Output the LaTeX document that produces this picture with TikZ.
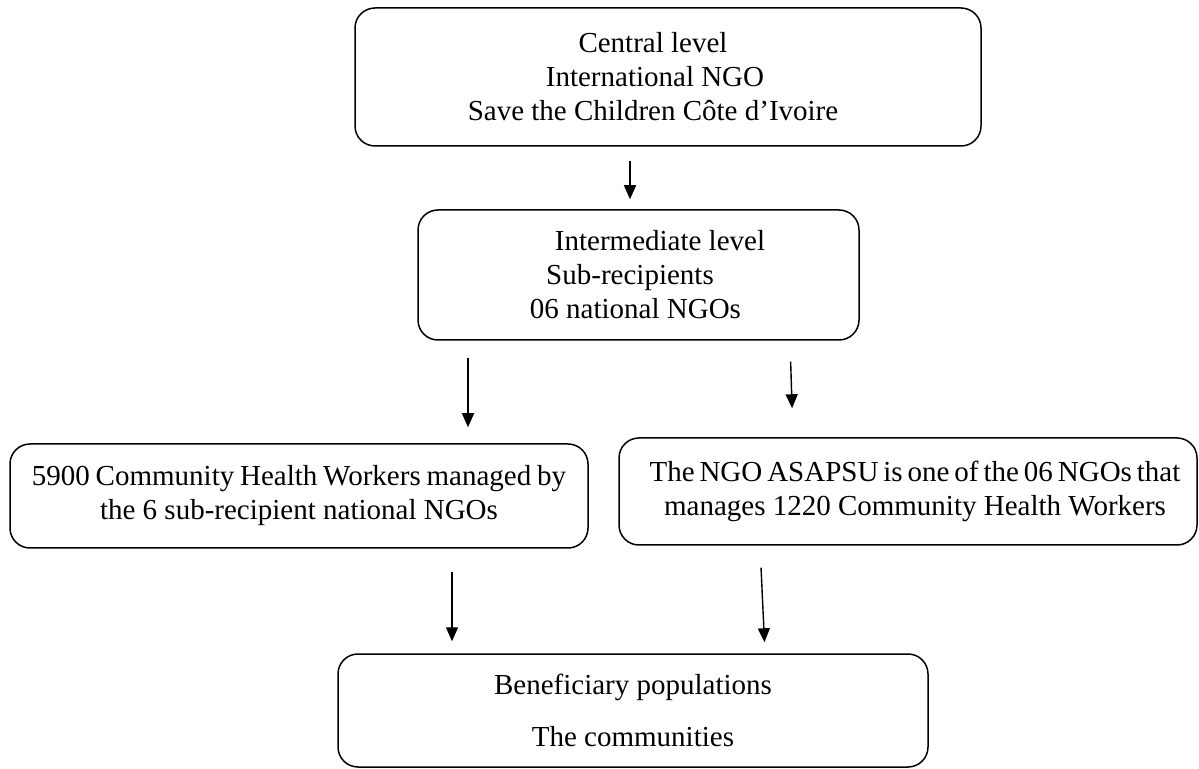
\documentclass[tikz,border=0pt]{standalone}
\usepackage{fontspec}
\setmainfont{Liberation Serif}
\usetikzlibrary{arrows.meta, positioning, calc}
\tikzset{
  block/.style={rectangle, draw=black, rounded corners=10pt, line width=0.75pt,
    align=center, inner sep=4pt, font=\fontsize{14.5}{17}\selectfont},
  arrow/.style={-{Triangle[length=7pt, width=6pt]}, line width=0.7pt, color=black}
}

\begin{document}
\begin{tikzpicture}[x=0.5pt, y=-0.5pt]
  \useasboundingbox (0,0) rectangle (1199,769);

  % Central level
  \node[block, minimum width=313pt, minimum height=69pt] (central) at (668, 77) {\mbox{Central level\hspace{15pt}}\\\mbox{International NGO\hspace{13pt}}\\\mbox{Save the Children Côte d’Ivoire\hspace{15pt}}};

  % Intermediate level
  \node[block, minimum width=220.5pt, minimum height=65pt] (inter) at (638.5, 275) {\mbox{\hspace{21.5pt}Intermediate level}\\\mbox{Sub-recipients\hspace{8.5pt}}\\\mbox{06 national NGOs\hspace{3pt}}};

  % Community health workers
  \node[block, minimum width=289pt, minimum height=52pt] (chw) at (299, 496) {{\spaceskip=0.2em\relax 5900 Community Health Workers managed by}\\the 6 sub-recipient national NGOs};
  \node[block, minimum width=289pt, minimum height=53.5pt] (asapsu) at (908, 491.5) {\hspace*{7pt}{\spaceskip=0.17em\relax The NGO ASAPSU is one of the 06 NGOs that}\\\hspace*{7pt}manages 1220 Community Health Workers};

  % Beneficiaries
  \node[block, minimum width=295pt, minimum height=56.5pt] (benef) at (633, 710.5) {Beneficiary populations\\[9pt]The communities};

  % Arrows
  \draw[arrow, shorten <=7pt, shorten >=5pt] ([xshift=-19pt]central.south) -- ([xshift=-4.25pt]inter.north);
  \draw[arrow, shorten <=8.5pt, shorten >=8pt] ([xshift=-85.25pt]inter.south) -- ([xshift=84.5pt]chw.north);
  \draw[arrow, shorten <=10.5pt, shorten >=14.5pt] ([xshift=75.75pt]inter.south) -- ([xshift=-57.5pt]asapsu.north);
  \draw[arrow, shorten <=11.5pt, shorten >=6pt] ([xshift=76.5pt]chw.south) -- ([xshift=-90.5pt]benef.north);
  \draw[arrow, shorten <=11pt, shorten >=5.5pt] ([xshift=-74pt]asapsu.south) -- ([xshift=66pt]benef.north);
\end{tikzpicture}
\end{document}
